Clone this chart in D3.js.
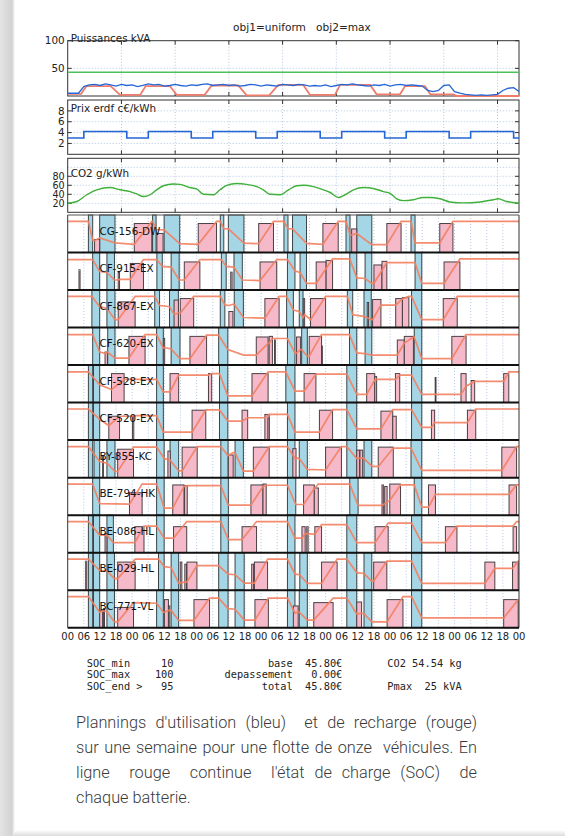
<!DOCTYPE html>
<html><head><meta charset="utf-8">
<script src="https://cdnjs.cloudflare.com/ajax/libs/d3/7.8.5/d3.min.js"></script>
<style>body{margin:0;background:#fff;}svg{display:block;}</style>
</head><body><svg id="c" width="565" height="836"></svg>
<script>
// ---------------- DATA ----------------
const chartTitle = "obj1=uniform   obj2=max";
const xTickLabels = ["00","06","12","18","00","06","12","18","00","06","12","18","00","06","12","18","00","06","12","18","00","06","12","18","00","06","12","18","00"];

const powerBlueHours = [0,2,4,6,8,10,12,14,16,18,20,22,24,26,28,30,32,34,36,38,40,42,44,46,48,50,52,54,56,58,60,62,64,66,68,70,72,74,76,78,80,82,84,86,88,90,92,94,96,98,100,102,104,106,108,110,112,114,116,118,120,122,124,126,128,130,132,134,136,138,140,142,144,146,148,150,152,154,156,158,160,162,164,166,168];
const powerBlueValues = [5,5,5,17,20,21,19,22,20,18,21,19,20,17,19,22,20,21,18,19,21,19,18,20,19,21,22,19,20,21,19,20,18,19,21,20,18,20,19,18,21,20,19,21,20,18,19,18,20,17,19,21,20,22,20,19,18,20,19,21,18,20,21,19,20,19,18,10,8,10,19,20,8,5,3,2,1,2,1,2,3,10,14,15,8];
const powerRedHours = [0,5,7,16,19.5,27,29,38,40.6,51,53.6,63.5,66.6,75,78.4,87.7,90.2,99.5,101.4,112.6,115,123.7,125.6,133,135,143.6,145,168];
const powerRedValues = [4,4,18,18,2,2,18,18,2,2,19,19,1,1,20,20,2,2,20,20,3,3,18,18,3,3,0,0];
const powerLimit = 43;

const priceHours = [0,6,22,30,46,54,70,78,94,102,118,126,142,150,166,168];
const priceValues = [3,4.2,3,4.2,3,4.2,3,4.2,3,4.2,3,4.2,3,4.2,3,3];

const co2Hours = [0,3.4,7.1,10.8,15.8,19.5,23.2,25.7,28.2,30.7,33.1,35.6,39.3,41.8,45.5,48,50.5,54.2,56.7,59.2,62.9,66.6,70.4,72.8,75.3,79.1,82.2,85.3,87.7,91.5,95.2,97.7,100.8,103.3,106.4,110.1,113.8,117.5,120,122.5,125,128.7,132.4,134.9,138.6,142.3,147.3,153.5,158.5,160.3,163.4,168];
const co2Values = [20,24,39,50,55,50,46,41,35,39,50,59,63,62,55,52,40,39,50,60,64,62,57,50,40,39,50,59,60,57,50,44,33,39,50,55,53,46,42,30,26,28,33,33,30,23,21,23,28,30,24,20];

const vehicleNames = ["CG-156-DW","CF-915-EX","CF-867-EX","CF-620-EX","CF-528-EX","CF-520-EX","BY-855-KC","BE-794-HK","BE-086-HL","BE-029-HL","BC-771-VL"];

const usagePeriods = [
 [[7.7,9.3],[11.9,17.6],[31.6,32.9],[35.9,41.7],[56.8,58.1],[59.8,65.6],[80.5,82],[83.7,88.9],[103.6,105.1],[107.6,113.2],[127.8,129.3]],
 [[9.3,11.9],[14.6,17.4],[33.2,35.2],[38.5,41.5],[57.2,59],[61.9,65],[81.8,84.6],[86.5,88.9],[105,107.6],[110.7,113.2],[129.3,131.8]],
 [[9,11.9],[14.6,17.6],[32.4,34.2],[37.9,41.2],[56.8,58.5],[62,65.4],[81.5,84],[86.2,87.6],[104.1,106.1],[110.3,113],[128,131.8]],
 [[9.3,11.9],[14.9,17.6],[33.1,35.6],[38.5,41.8],[56.2,59.6],[81.8,84.6],[87.1,89.2],[104.9,107.6],[110.7,113.2],[129,131.8]],
 [[7.7,9.3],[9.6,11.9],[33.1,35.6],[56.5,59.6],[81.2,84.6],[103.9,107.6],[128,131.8]],
 [[7.7,9.3],[9.6,11.9],[33.1,35.6],[56.5,59.6],[81.8,84.6],[103.9,107.6],[128,131.8]],
 [[7.7,9.3],[9.8,11.9],[14.6,17.6],[33.1,35.9],[38.1,41.3],[57,59.7],[62.3,65.4],[81.8,84.6],[86.2,89.2],[103.9,107.6],[110.3,113.2],[127.8,131.8]],
 [[9.3,11.9],[33.1,35.9],[57,59.8],[81.8,84.9],[105,108.1],[129,131.8]],
 [[7.7,9.3],[9.6,11.9],[14.6,17],[33.1,35.9],[57,59.8],[81.8,84.6],[103.9,107.6],[128,131.8]],
 [[7.7,9.3],[9.6,11.9],[14.6,17.4],[33.8,35.9],[38.5,41.3],[56.2,59.7],[62.3,65.7],[81.8,84.6],[86.4,89.2],[103.9,107.6],[110.3,113.2],[128,131.8]],
 [[7.7,9.3],[9.6,11.9],[14.6,17.4],[33.1,35.6],[38.5,41.3],[56.2,59.7],[62.3,65.7],[81.8,84.6],[86.2,89.2],[103.9,107.6],[110.3,113.2],[128,131.8]]
];

const chargePeriods = [
 [[10,11.9,40],[24.8,31.3,93],[33.2,35.5,60],[48.6,55.4,93],[71.1,76.6,93],[95,100.7,93],[105.7,107.6,75],[118.8,124.1,93],[138.5,143.4,93]],
 [[4.2,4.6,64],[18.8,19.3,55],[23.3,28.2,85],[43.4,49.2,90],[60.7,61.2,56],[71.6,77.8,90],[92.5,96.2,90],[96.2,98.6,95],[114,117,80],[117,118.8,92],[140.1,146,90]],
 [[18.8,25.1,82],[39.6,41.2,88],[41.9,46.9,93],[60,61.5,50],[73.4,78.7,93],[87.7,88.2,93],[90.4,96,93],[111.5,112,80],[113.5,116.6,90],[122.1,124.6,93],[124.6,127,96],[139.8,145,93]],
 [[13.9,14.8,40],[22.8,28.8,92],[35.6,36.1,85],[45.5,51.7,92],[70.2,74.6,90],[75,76.2,92],[77,77.3,80],[85.2,86.7,90],[89.9,94.5,92],[94.5,94.8,60],[122.7,125.3,80],[125.3,128.7,92],[143,148.3,92]],
 [[16.3,21,93],[38.1,41.3,93],[52.4,53.6,93],[68.6,74.6,93],[88,92.4,93],[111.3,114.3,93],[114.3,115,83],[122,123.6,93],[136.8,137.1,80],[146.4,148.3,93],[150.2,151.5,70],[162.3,164.2,93]],
 [[15.3,19.3,76],[24.1,24.6,76],[46.3,51.4,96],[64.9,67,96],[73.4,75,82],[74.5,75,70],[93.7,98.6,96],[116.6,121,93],[121,122.3,76],[135.4,136.6,96],[148.8,151.9,96]],
 [[13,13.3,70],[18.6,24.5,91],[37.3,38.2,85],[42.6,48.2,98],[59.8,61.6,72],[69.1,75,98],[83.8,85,93],[96,101.9,98],[107.6,108.6,88],[108.8,109.8,88],[115.6,121.2,98],[161.6,167.1,98]],
 [[23,27.7,71],[39.1,43.3,97],[43.5,44.5,95],[68.2,72.7,97],[72.7,73.9,100],[87.8,91.8,97],[91.8,93.3,87],[117,117.5,97],[118,118.9,92],[119.9,123.9,100],[134.3,136.9,97],[164.3,167.1,97]],
 [[13.9,14.6,60],[25,28.4,83],[39.4,44.3,83],[64.9,70.3,83],[87.2,88.4,83],[89,89.5,83],[92,94.5,83],[114.4,119.3,83],[140.6,144.9,83],[165.8,167.1,83]],
 [[6.7,7.1,93],[18.6,25.1,90],[41.9,42.5,90],[43.6,44.2,83],[44.4,48.1,90],[68.5,69.2,83],[69.5,74.4,90],[94.5,100.3,90],[113.9,118.8,90],[155.3,159,90],[165.6,167.7,90]],
 [[11.9,13,53],[13.3,13.7,60],[18.6,24.5,64],[36,37.5,90],[37.5,38,69],[47,52.8,90],[69.7,74.7,90],[84,85.8,69],[91.6,98.8,80],[107.6,109.4,82],[118.9,124.8,90],[162.3,167.7,90]]
];

const socPoints = [
 [[0,100],[7.7,100],[9.3,38],[10,36],[11.9,45],[17.6,29],[24.8,24],[31.3,100],[31.6,100],[32.9,73],[35.9,72],[41.7,26],[48.6,24],[55.4,100],[56.8,100],[58.1,76],[59.8,75],[65.6,28],[71.1,26],[76.6,100],[80.5,100],[82,76],[83.7,75],[88.9,27],[95,24],[100.7,100],[103.6,100],[105.1,56],[105.7,55],[107.6,60],[113.2,23],[118.8,23],[124.1,100],[127.8,100],[129.3,29],[138.5,29],[143.4,100],[168,100]],
 [[0,98],[9.3,98],[11.9,58],[14.6,55],[17.4,30],[18.8,30],[19.3,32],[23.3,32],[28.2,98],[33.2,98],[35.2,75],[38.5,73],[41.5,30],[43.4,30],[49.2,98],[57.2,98],[59,75],[61.9,73],[65,30],[71.6,28],[77.8,98],[81.8,98],[84.6,60],[86.5,55],[88.9,19],[92.5,19],[98.6,100],[105,100],[107.6,37],[110.7,35],[113.2,19],[114,19],[118.8,88],[129.3,88],[131.8,19],[140.1,19],[146,100],[168,100]],
 [[0,100],[9,100],[11.9,66],[14.6,60],[17.6,23],[18.8,23],[25.1,100],[32.4,100],[34.2,70],[37.9,66],[39.6,40],[41.2,45],[41.9,45],[46.9,100],[56.8,100],[58.5,72],[60,70],[61.5,74],[62,74],[65.4,30],[73.4,28],[78.7,100],[81.5,100],[84,55],[86.2,50],[87.6,29],[88.2,40],[90.4,23],[96,100],[104.1,100],[106.1,39],[110.3,34],[113,23],[113.5,23],[116.6,71],[122.1,71],[124.6,92],[127,100],[128,100],[131.8,23],[139.8,23],[145,100],[168,100]],
 [[0,98],[9.3,98],[11.9,40],[13.9,36],[14.8,40],[17.6,20],[22.8,20],[28.8,98],[33.1,98],[35.6,53],[36.1,55],[38.5,50],[41.8,18],[45.5,18],[51.7,96],[56.2,96],[59.6,48],[65.5,30],[70.2,30],[74.6,69],[75,69],[76.2,85],[81.8,85],[84.6,37],[85.2,37],[86.7,48],[87.1,48],[89.2,26],[89.9,26],[94.5,98],[104.9,98],[107.6,37],[110.7,35],[113.2,30],[122.7,30],[125.3,70],[128.7,90],[129,90],[131.8,18],[143,18],[148.3,98],[168,98]],
 [[0,99],[7.7,99],[11.9,56],[16.3,40],[21,74],[33.1,74],[35.6,32],[38.1,32],[41.3,88],[52.4,88],[53.6,93],[56.5,93],[59.6,19],[68.6,19],[74.6,99],[81.2,99],[84.6,35],[88,35],[92.4,91],[103.9,91],[107.6,24],[111.3,24],[114.3,72],[115,74],[122,74],[123.6,88],[128,88],[131.8,24],[146.4,24],[148.3,51],[151.5,67],[162.3,67],[164.2,99],[168,99]],
 [[0,100],[7.7,100],[11.9,66],[15.3,45],[19.3,76],[24.1,76],[24.6,78],[33.1,78],[35.6,23],[46.3,23],[51.4,97],[56.5,97],[59.6,60],[64.9,60],[67,71],[73.4,71],[75,82],[81.8,82],[84.6,23],[93.7,23],[98.6,98],[103.9,98],[107.6,34],[116.6,34],[121,98],[128,98],[131.8,39],[135.4,39],[136.6,55],[148.8,55],[151.9,100],[168,100]],
 [[0,100],[7.7,100],[11.9,50],[14.6,45],[17.6,17],[18.6,17],[24.5,98],[33.1,98],[35.9,60],[38.1,55],[41.3,19],[42.6,19],[48.2,100],[57,100],[59.7,70],[61.6,80],[62.3,80],[65.4,18],[69.1,18],[75,100],[81.8,100],[84.6,60],[85,62],[86.2,60],[89.2,24],[96,22],[101.9,100],[103.9,100],[107.6,60],[109.8,62],[110.3,60],[113.2,35],[115.6,33],[121.2,95],[127.8,95],[131.8,21],[161.6,21],[167.1,100],[168,100]],
 [[0,100],[9.3,100],[11.9,35],[23,33],[27.7,100],[33.1,100],[35.9,20],[39.1,20],[43.3,92],[44.5,95],[57,95],[59.8,30],[68.2,30],[72.7,92],[73.9,96],[81.8,96],[84.9,32],[87.8,32],[91.8,85],[93.3,100],[105,100],[108.1,29],[117,29],[118.9,40],[119.9,45],[123.9,97],[129,97],[131.8,23],[134.3,23],[136.9,66],[164.3,66],[167.1,97],[168,97]],
 [[0,100],[7.7,100],[11.9,55],[14.6,55],[17,30],[25,30],[28.4,85],[33.1,85],[35.9,45],[39.4,45],[44.3,100],[57,100],[59.8,40],[64.9,40],[70.3,100],[81.8,100],[84.6,45],[87.2,45],[88.4,60],[92,58],[94.5,90],[103.9,90],[107.6,30],[114.4,30],[119.3,95],[128,95],[131.8,30],[140.6,30],[144.9,85],[165.8,85],[167.1,100],[168,100]],
 [[0,100],[7.7,100],[11.9,62],[14.6,60],[17.4,35],[18.6,35],[25.1,100],[33.8,100],[35.9,75],[38.5,72],[41.3,20],[44.4,24],[48.1,78],[56.2,78],[59.7,50],[62.3,48],[65.7,20],[69.5,20],[74.4,100],[81.8,100],[84.6,50],[86.4,48],[89.2,19],[94.5,19],[100.3,100],[103.9,100],[107.6,55],[110.3,52],[113.2,27],[113.9,27],[118.8,93],[128,93],[131.8,19],[155.3,19],[159,69],[165.6,69],[167.7,93],[168,93]],
 [[0,100],[7.7,100],[11.9,48],[13,52],[14.6,50],[17.4,16],[18.6,16],[24.5,80],[33.1,78],[35.6,48],[36,48],[38,55],[38.5,55],[41.3,21],[47,21],[52.8,95],[56.2,95],[59.7,60],[62.3,58],[65.7,22],[69.7,22],[74.7,95],[81.8,95],[84.6,45],[85.8,50],[86.2,48],[89.2,22],[91.6,22],[98.8,95],[103.9,95],[107.6,42],[109.4,45],[110.3,43],[113.2,16],[118.9,16],[124.8,100],[128,100],[131.8,29],[162.3,29],[167.7,90],[168,90]]
];

const footerLeft = ["SOC_min     10","SOC_max    100","SOC_end >   95"];
const footerMid = ["base  45.80€","depassement   0.00€","total  45.80€"];
const footerRight = ["CO2 54.54 kg","","Pmax  25 kVA"];
const captionLines = ["Plannings d'utilisation (bleu)  et de recharge (rouge)","sur une semaine pour une flotte de onze  véhicules. En","ligne  rouge  continue  l'état de charge (SoC)  de","chaque batterie."];

// ---------------- DRAWING ----------------
const svg = d3.select("#c");
const FONT = "DejaVu Sans, sans-serif";
const MONO = "DejaVu Sans Mono, monospace";
const gridColor = "#9fb8d8";

const defs = svg.append("defs");
const lg = defs.append("linearGradient").attr("id","shadow").attr("x1",0).attr("x2",1);
lg.append("stop").attr("offset",0).attr("stop-color","#e4e4e4");
lg.append("stop").attr("offset",0.8).attr("stop-color","#d2d2d2");
lg.append("stop").attr("offset",1).attr("stop-color","#ffffff");
svg.append("rect").attr("x",0).attr("y",0).attr("width",15).attr("height",836).attr("fill","url(#shadow)");
const bg = defs.append("linearGradient").attr("id","shadowB").attr("x1",0).attr("x2",0).attr("y1",0).attr("y2",1);
bg.append("stop").attr("offset",0).attr("stop-color","#ffffff");
bg.append("stop").attr("offset",1).attr("stop-color","#dcdcdc");
svg.append("rect").attr("x",14).attr("y",830).attr("width",551).attr("height",6).attr("fill","url(#shadowB)");

const x = d3.scaleLinear().domain([0,168]).range([67.7,519]);

svg.append("text").attr("x",302).attr("y",31).attr("text-anchor","middle")
  .attr("font-family",FONT).attr("font-size",10.6).attr("fill","#222")
  .attr("xml:space","preserve").text(chartTitle);

function topPanel(top, bottom, domain, tickVals, gridVals, title, titleY, labelSize) {
  const y = d3.scaleLinear().domain(domain).range([bottom, top]);
  const g = svg.append("g");
  g.append("rect").attr("x",x(0)).attr("y",top).attr("width",x(168)-x(0)).attr("height",bottom-top).attr("fill","#fff");
  const xg = d3.range(20,168,20);
  g.selectAll(".vg").data(xg).join("line").attr("x1",d=>x(d)).attr("x2",d=>x(d)).attr("y1",top).attr("y2",bottom)
    .attr("stroke",gridColor).attr("stroke-width",0.8).attr("stroke-dasharray","1,2");
  g.selectAll(".hg").data(gridVals).join("line").attr("x1",x(0)).attr("x2",x(168)).attr("y1",d=>y(d)).attr("y2",d=>y(d))
    .attr("stroke",gridColor).attr("stroke-width",0.8).attr("stroke-dasharray","1,2");
  g.selectAll(".tl").data(tickVals).join("line").attr("x1",x(0)).attr("x2",x(0)+4).attr("y1",d=>y(d)).attr("y2",d=>y(d)).attr("stroke","#333");
  g.selectAll(".tr").data(tickVals).join("line").attr("x1",x(168)-4).attr("x2",x(168)).attr("y1",d=>y(d)).attr("y2",d=>y(d)).attr("stroke","#333");
  g.selectAll(".tb").data(xg).join("line").attr("x1",d=>x(d)).attr("x2",d=>x(d)).attr("y1",bottom-4).attr("y2",bottom).attr("stroke","#333");
  g.selectAll(".tt").data(xg).join("line").attr("x1",d=>x(d)).attr("x2",d=>x(d)).attr("y1",top).attr("y2",top+4).attr("stroke","#333");
  g.selectAll(".lab").data(tickVals).join("text").attr("x",x(0)-3).attr("y",d=>y(d)+labelSize*0.36).attr("text-anchor","end")
    .attr("font-family",FONT).attr("font-size",labelSize).attr("fill","#222").text(d=>d);
  g.append("rect").attr("x",x(0)).attr("y",top).attr("width",x(168)-x(0)).attr("height",bottom-top)
    .attr("fill","none").attr("stroke","#333").attr("stroke-width",1);
  return {g, y, top, bottom, title, titleY};
}
function addTitle(p){
  svg.append("text").attr("x",x(0)+3).attr("y",p.titleY).attr("font-family",FONT).attr("font-size",10.4).attr("fill","#222").text(p.title);
}

const p1 = topPanel(40.7, 96, [0,100], [50,100], [50], "Puissances kVA", 41.8, 10.4);
p1.g.append("line").attr("x1",x(0)).attr("x2",x(168)).attr("y1",p1.y(powerLimit)).attr("y2",p1.y(powerLimit)).attr("stroke","#4cc05a").attr("stroke-width",1.4);
p1.g.append("path").datum(d3.zip(powerRedHours,powerRedValues)).attr("fill","none").attr("stroke","#f07c6c").attr("stroke-width",1.8)
  .attr("d",d3.line().x(d=>x(d[0])).y(d=>p1.y(d[1])));
p1.g.append("path").datum(d3.zip(powerBlueHours,powerBlueValues)).attr("fill","none").attr("stroke","#2566d6").attr("stroke-width",1.3)
  .attr("d",d3.line().x(d=>x(d[0])).y(d=>p1.y(d[1])));
addTitle(p1);

const p2 = topPanel(100, 154.3, [0,10], [2,4,6,8], [2,4,6,8], "Prix erdf c€/kWh", 112, 10.4);
p2.g.append("path").datum(d3.zip(priceHours,priceValues)).attr("fill","none").attr("stroke","#2566d6").attr("stroke-width",1.6)
  .attr("d",d3.line().curve(d3.curveStepAfter).x(d=>x(d[0])).y(d=>p2.y(d[1])));
addTitle(p2);

const p3 = topPanel(158.3, 212.3, [0,120], [20,40,60,80], [20,40,60,80,100], "CO2 g/kWh", 177, 9.6);
p3.g.append("path").datum(d3.zip(co2Hours,co2Values)).attr("fill","none").attr("stroke","#3fb03a").attr("stroke-width",1.4)
  .attr("d",d3.line().curve(d3.curveMonotoneX).x(d=>x(d[0])).y(d=>p3.y(d[1])));
addTitle(p3);

const band = d3.scaleBand().domain(vehicleNames).range([215, 627.7]).paddingInner(0).paddingOuter(0);
const sixH = d3.range(6,168,6);
vehicleNames.forEach((name, i) => {
  const top = band(name), bottom = top + band.bandwidth();
  const y = d3.scaleLinear().domain([0,118]).range([bottom-1, top+1]);
  const g = svg.append("g");
  defs.append("clipPath").attr("id","clip"+i).append("rect").attr("x",x(0)).attr("y",top).attr("width",x(168)-x(0)).attr("height",bottom-top);
  g.append("rect").attr("x",x(0)).attr("y",top).attr("width",x(168)-x(0)).attr("height",bottom-top).attr("fill","#fff");
  g.selectAll(".vg").data(sixH).join("line").attr("x1",d=>x(d)).attr("x2",d=>x(d)).attr("y1",top).attr("y2",bottom)
    .attr("stroke",gridColor).attr("stroke-width",0.8).attr("stroke-dasharray","1,2");
  g.selectAll(".use").data(usagePeriods[i]).join("rect")
    .attr("x",d=>x(d[0])).attr("width",d=>x(d[1])-x(d[0])).attr("y",top).attr("height",bottom-top)
    .attr("fill","#a4d6e6").attr("stroke","#3a4448").attr("stroke-width",1);
  g.selectAll(".chg").data(chargePeriods[i]).join("rect")
    .attr("x",d=>x(d[0])).attr("width",d=>Math.max(0.8,x(d[1])-x(d[0]))).attr("y",d=>y(d[2])).attr("height",d=>bottom-y(d[2]))
    .attr("fill","#f5b9c9").attr("stroke","#4a4044").attr("stroke-width",1);
  g.append("path").datum(socPoints[i]).attr("clip-path","url(#clip"+i+")").attr("fill","none").attr("stroke","#f3805f").attr("stroke-opacity",0.9).attr("stroke-width",1.7)
    .attr("d",d3.line().x(d=>x(d[0])).y(d=>y(d[1])));
  g.append("text").attr("x",x(11.8)).attr("y",(top+bottom)/2+1).attr("font-family",FONT).attr("font-size",10.4).attr("fill","#111").text(name);
  g.append("line").attr("x1",x(0)).attr("x2",x(0)).attr("y1",top).attr("y2",bottom).attr("stroke","#333").attr("stroke-width",1);
  g.append("line").attr("x1",x(168)).attr("x2",x(168)).attr("y1",top).attr("y2",bottom).attr("stroke","#333").attr("stroke-width",1);
});
svg.append("line").attr("x1",x(0)).attr("x2",x(168)).attr("y1",215).attr("y2",215).attr("stroke","#555").attr("stroke-width",1);
svg.selectAll(".sep").data(vehicleNames.slice(1)).join("line")
  .attr("x1",x(0)).attr("x2",x(168)).attr("y1",d=>band(d)).attr("y2",d=>band(d)).attr("stroke","#111").attr("stroke-width",2);
svg.append("line").attr("x1",x(0)).attr("x2",x(168)).attr("y1",627.7).attr("y2",627.7).attr("stroke","#111").attr("stroke-width",2);

svg.selectAll(".xl").data(xTickLabels).join("text")
  .attr("x",(d,i)=>x(i*6)).attr("y",640.3).attr("text-anchor","middle")
  .attr("font-family",FONT).attr("font-size",10).attr("fill","#222").text(d=>d);

const fy = [666.5,678,689.5];
footerLeft.forEach((t,i)=>svg.append("text").attr("x",86.7).attr("y",fy[i]).attr("font-family",MONO).attr("font-size",10.3).attr("fill","#222").attr("xml:space","preserve").text(t));
footerMid.forEach((t,i)=>svg.append("text").attr("x",342.3).attr("y",fy[i]).attr("text-anchor","end").attr("font-family",MONO).attr("font-size",10.3).attr("fill","#222").attr("xml:space","preserve").text(t));
footerRight.forEach((t,i)=>svg.append("text").attr("x",387.3).attr("y",fy[i]).attr("font-family",MONO).attr("font-size",10.3).attr("fill","#222").attr("xml:space","preserve").text(t));

const capX0 = 76, capX1 = 477, capY = [728.3,753.3,778.3,803.3];
const capStyle = s => s.attr("font-family","Roboto, sans-serif").attr("font-weight",300).attr("font-size",16.3).attr("fill","#3a3a3a").attr("xml:space","preserve");
const m1 = capStyle(svg.append("text").attr("y",-50).text("x x")), m2 = capStyle(svg.append("text").attr("y",-50).text("xx"));
const spaceW = m1.node().getComputedTextLength() - m2.node().getComputedTextLength();
m1.remove(); m2.remove();
captionLines.forEach((line,i)=>{
  if (i === captionLines.length-1) {
    capStyle(svg.append("text").attr("x",capX0).attr("y",capY[i]).text(line));
    return;
  }
  const tokens = line.split(" ");
  const nodes = tokens.map(w => w ? capStyle(svg.append("text").attr("y",capY[i]).text(w)) : null);
  const widths = nodes.map(n => n ? n.node().getComputedTextLength() : 0);
  const nSp = tokens.length - 1;
  const extra = (capX1 - capX0 - d3.sum(widths) - nSp*spaceW) / nSp;
  let cx = capX0;
  nodes.forEach((n,k)=>{ if (n) n.attr("x",cx); cx += widths[k] + spaceW + extra; });
});
</script></body></html>
